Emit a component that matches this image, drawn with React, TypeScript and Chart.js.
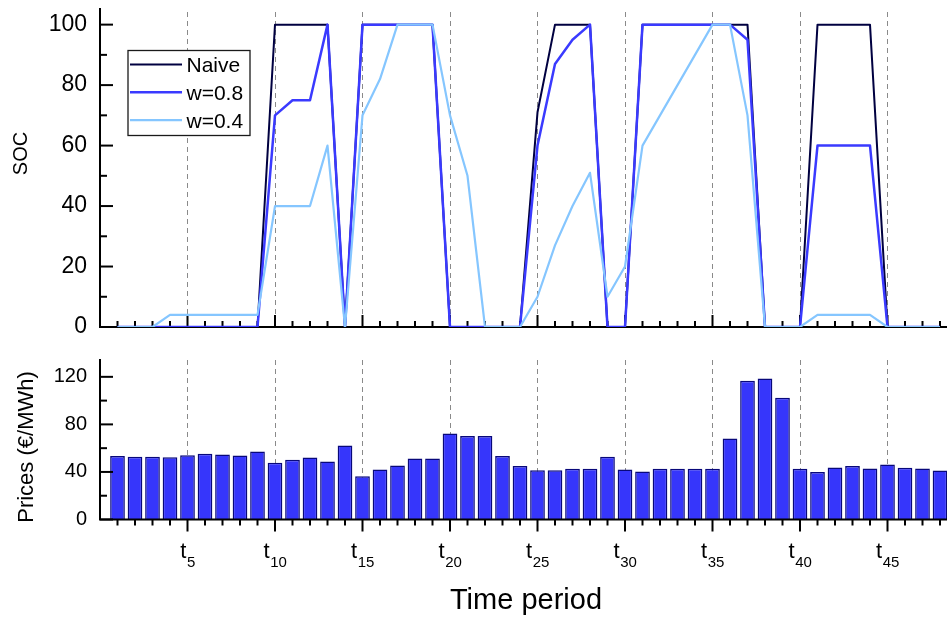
import React, { useEffect, useRef } from "react";
import { Chart, registerables } from "chart.js";

Chart.register(...registerables);

const FONT = "'Liberation Sans', Arial, Helvetica, sans-serif";

// Time periods t1 … t48
const periods = [
  1, 2, 3, 4, 5, 6, 7, 8, 9, 10, 11, 12, 13, 14, 15, 16, 17, 18, 19, 20, 21, 22, 23, 24,
  25, 26, 27, 28, 29, 30, 31, 32, 33, 34, 35, 36, 37, 38, 39, 40, 41, 42, 43, 44, 45, 46, 47, 48,
];

// State of charge per period
const socNaive = [
  0, 0, 0, 0, 0, 0, 0, 0, 0, 100, 100, 100, 100, 0, 100, 100, 100, 100, 100, 0, 0, 0, 0, 0,
  71, 100, 100, 100, 0, 0, 100, 100, 100, 100, 100, 100, 100, 0, 0, 0, 100, 100, 100, 100, 0, 0, 0, 0,
];
const socW08 = [
  0, 0, 0, 0, 0, 0, 0, 0, 0, 70, 75, 75, 100, 0, 100, 100, 100, 100, 100, 0, 0, 0, 0, 0,
  60, 87, 95, 100, 0, 0, 100, 100, 100, 100, 100, 100, 95, 0, 0, 0, 60, 60, 60, 60, 0, 0, 0, 0,
];
const socW04 = [
  0, 0, 0, 4, 4, 4, 4, 4, 4, 40, 40, 40, 60, 0, 70, 82, 100, 100, 100, 70, 50, 0, 0, 0,
  10, 27, 40, 51, 10, 20, 60, 70, 80, 90, 100, 100, 70, 0, 0, 0, 4, 4, 4, 4, 0, 0, 0, 0,
];

// Electricity prices (€/MWh) per period
const prices = [
  53.5, 52.7, 52.7, 52.4, 54.1, 55.2, 54.7, 53.9, 57.2, 47.7, 50.2, 52.2, 48.8, 62.3, 36.3, 42.1,
  45.5, 51.4, 51.4, 72.3, 70.3, 70.3, 53.5, 44.9, 41.5, 41.5, 42.6, 42.6, 52.7, 42.1, 40.4, 42.6,
  42.6, 42.6, 42.6, 68.1, 116.8, 118.5, 102.5, 42.6, 39.9, 43.8, 44.9, 43.0, 46.3, 43.5, 43.0, 41.3,
];

const seriesNames = ["Naive", "w=0.8", "w=0.4"];
const socTicks = [0, 20, 40, 60, 80, 100];
const socMinorTicks = [10, 30, 50, 70, 90];
const priceTicks = [0, 40, 80, 120];
const priceMinorTicks = [20, 60, 100];
const labelledPeriods = [5, 10, 15, 20, 25, 30, 35, 40, 45];
const socTitle = "SOC";
const priceTitle = "Prices (€/MWh)";
const timeTitle = "Time period";

const X_MAX = 48.4;

type AnyChart = any;

function drawGuides(chart: AnyChart, topOffset: number) {
  const { ctx, chartArea: a, scales } = chart;
  ctx.save();
  ctx.strokeStyle = "#8a8a8a";
  ctx.lineWidth = 1;
  ctx.setLineDash([5, 4]);
  for (const p of labelledPeriods) {
    const px = Math.floor(scales.x.getPixelForValue(p)) + 0.5;
    ctx.beginPath();
    ctx.moveTo(px, a.top + topOffset);
    ctx.lineTo(px, a.bottom);
    ctx.stroke();
  }
  ctx.restore();
}

function drawFrame(chart: AnyChart, major: number[], minor: number[], xTicksDown: boolean) {
  const { ctx, chartArea: a, scales } = chart;
  ctx.save();
  ctx.strokeStyle = "#000";
  ctx.lineWidth = 2;
  ctx.beginPath();
  ctx.moveTo(a.left, a.top);
  ctx.lineTo(a.left, a.bottom);
  ctx.lineTo(a.right + 2, a.bottom);
  ctx.stroke();
  // y ticks point into the plot
  for (const v of major.concat(minor)) {
    const py = scales.y.getPixelForValue(v);
    const len = major.includes(v) ? 13 : 7;
    ctx.beginPath();
    ctx.moveTo(a.left, py);
    ctx.lineTo(a.left + len, py);
    ctx.stroke();
  }
  // x ticks at every period
  for (const p of periods) {
    const px = scales.x.getPixelForValue(p);
    const len = p % 5 === 0 ? 12 : 6;
    ctx.beginPath();
    ctx.moveTo(px, a.bottom);
    ctx.lineTo(px, xTicksDown ? a.bottom + len : a.bottom - len);
    ctx.stroke();
  }
  ctx.restore();
}

function drawVerticalTitle(ctx: CanvasRenderingContext2D, text: string, x: number, y: number, size: number) {
  ctx.save();
  ctx.translate(x, y);
  ctx.rotate(-Math.PI / 2);
  ctx.font = `${size}px ${FONT}`;
  ctx.fillStyle = "#000";
  ctx.textAlign = "center";
  ctx.textBaseline = "alphabetic";
  ctx.fillText(text, 0, 0);
  ctx.restore();
}

const socDecor = {
  id: "socDecor",
  beforeDatasetsDraw(chart: AnyChart) {
    drawGuides(chart, 4);
    drawFrame(chart, socTicks, socMinorTicks, false);
  },
  afterDatasetsDraw(chart: AnyChart) {
    const { ctx } = chart;
    // legend box
    ctx.save();
    ctx.fillStyle = "#fff";
    ctx.fillRect(128, 50.5, 122, 85);
    ctx.strokeStyle = "#1a1a1a";
    ctx.lineWidth = 1.3;
    ctx.strokeRect(128, 50.5, 122, 85);
    chart.data.datasets.forEach((ds: any, i: number) => {
      const ly = 64.5 + i * 27.8;
      ctx.strokeStyle = ds.borderColor;
      ctx.lineWidth = ds.borderWidth;
      ctx.beginPath();
      ctx.moveTo(130, ly);
      ctx.lineTo(182, ly);
      ctx.stroke();
      ctx.fillStyle = "#000";
      ctx.font = `21px ${FONT}`;
      ctx.textAlign = "left";
      ctx.textBaseline = "alphabetic";
      ctx.fillText(ds.label, 186.5, ly + 7.5);
    });
    ctx.restore();
    drawVerticalTitle(ctx, socTitle, 27, 153.5, 20);
  },
};

const priceDecor = {
  id: "priceDecor",
  beforeDatasetsDraw(chart: AnyChart) {
    drawGuides(chart, 1);
  },
  afterDatasetsDraw(chart: AnyChart) {
    const { ctx, chartArea: a, scales } = chart;
    drawFrame(chart, priceTicks, priceMinorTicks, true);
    ctx.save();
    ctx.fillStyle = "#000";
    ctx.textAlign = "left";
    ctx.textBaseline = "alphabetic";
    for (const p of labelledPeriods) {
      const px = scales.x.getPixelForValue(p);
      const sub = String(p);
      ctx.font = `22px ${FONT}`;
      const wt = ctx.measureText("t").width;
      ctx.font = `15px ${FONT}`;
      const ws = ctx.measureText(sub).width;
      const x0 = px - (wt + ws) / 2;
      ctx.font = `22px ${FONT}`;
      ctx.fillText("t", x0, a.bottom + 38.5);
      ctx.font = `15px ${FONT}`;
      ctx.fillText(sub, x0 + wt + 0.5, a.bottom + 47.5);
    }
    ctx.font = `29px ${FONT}`;
    ctx.textAlign = "center";
    ctx.fillText(timeTitle, 526, 269);
    ctx.restore();
    drawVerticalTitle(ctx, priceTitle, 32.5, 107, 22);
  },
};

function yAxis(min: number, max: number, ticks: number[], size: number) {
  return {
    type: "linear",
    position: "left",
    min,
    max,
    grid: { display: false, drawTicks: false },
    border: { display: false },
    ticks: { font: { family: FONT, size }, color: "#000", padding: 13 },
    afterBuildTicks: (s: any) => {
      s.ticks = ticks.map((v) => ({ value: v }));
    },
    afterFit: (s: any) => {
      s.width = 100;
      s.paddingTop = 0;
      s.paddingBottom = 0;
    },
  };
}

const xAxis = { type: "linear", min: 0, max: X_MAX, display: false, offset: false };

export default function App() {
  const topRef = useRef<HTMLCanvasElement>(null);
  const bottomRef = useRef<HTMLCanvasElement>(null);

  useEffect(() => {
    const lineColors = ["#000040", "#3a3aff", "#85c6ff"];
    const lineWidths = [2, 2.5, 2.2];
    const socSeries = [socNaive, socW08, socW04];

    const top = new Chart(topRef.current as HTMLCanvasElement, {
      type: "line",
      data: {
        datasets: socSeries.map((vals, k) => ({
          label: seriesNames[k],
          data: periods.map((p, i) => ({ x: p, y: vals[i] })),
          borderColor: lineColors[k],
          borderWidth: lineWidths[k],
          borderJoinStyle: "round",
          pointRadius: 0,
          tension: 0,
          fill: false,
          order: 3 - k,
        })),
      },
      options: {
        animation: false,
        responsive: false,
        devicePixelRatio: 1,
        events: [],
        layout: { padding: { left: 0, top: 8, right: 0, bottom: 13 } },
        scales: { x: xAxis as any, y: yAxis(0, 105.5, socTicks, 23) as any },
        plugins: { legend: { display: false }, tooltip: { enabled: false } },
      },
      plugins: [socDecor],
    });

    const bottom = new Chart(bottomRef.current as HTMLCanvasElement, {
      type: "bar",
      data: {
        datasets: [
          {
            label: priceTitle,
            data: periods.map((p, i) => ({ x: p, y: prices[i] })),
            backgroundColor: "#3636fb",
            borderColor: "#08087a",
            borderWidth: 1.5,
            barPercentage: 0.84,
            categoryPercentage: 1,
          },
        ],
      },
      options: {
        animation: false,
        responsive: false,
        devicePixelRatio: 1,
        events: [],
        layout: { padding: { left: 0, top: 19, right: 0, bottom: 98.5 } },
        scales: { x: xAxis as any, y: yAxis(0, 135, priceTicks, 20) as any },
        plugins: { legend: { display: false }, tooltip: { enabled: false } },
      },
      plugins: [priceDecor],
    });

    return () => {
      top.destroy();
      bottom.destroy();
    };
  }, []);

  return (
    <div
      style={{
        position: "fixed",
        left: 0,
        top: 0,
        width: 947,
        height: 618,
        overflow: "hidden",
        background: "#fff",
      }}
    >
      <canvas ref={topRef} width={947} height={340} style={{ position: "absolute", left: 0, top: 0, width: 947, height: 340 }} />
      <canvas ref={bottomRef} width={947} height={278} style={{ position: "absolute", left: 0, top: 340, width: 947, height: 278 }} />
    </div>
  );
}
